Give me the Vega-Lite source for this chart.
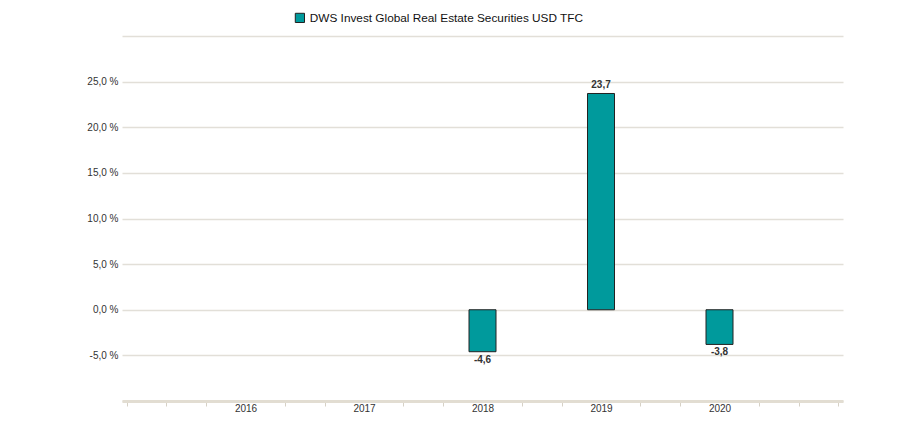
{
  "$schema": "https://vega.github.io/schema/vega-lite/v6.json",
  "autosize": {"type": "none"},
  "width": 721,
  "height": 365,
  "padding": {"left": 122, "top": 36, "right": 55, "bottom": 30},
  "background": "white",
  "data": {
    "values": [
      {"year": 2018, "value": -4.6, "series": "DWS Invest Global Real Estate Securities  USD TFC"},
      {"year": 2019, "value": 23.7, "series": "DWS Invest Global Real Estate Securities  USD TFC"},
      {"year": 2020, "value": -3.8, "series": "DWS Invest Global Real Estate Securities  USD TFC"}
    ]
  },
  "encoding": {
    "x": {
      "field": "year",
      "type": "quantitative",
      "scale": {"domain": [2015, 2021], "nice": false, "zero": false},
      "axis": {
        "title": null,
        "values": [2015, 2015.3333, 2015.6667, 2016, 2016.3333, 2016.6667, 2017, 2017.3333, 2017.6667, 2018, 2018.3333, 2018.6667, 2019, 2019.3333, 2019.6667, 2020, 2020.3333, 2020.6667, 2021],
        "labelExpr": "abs(datum.value - round(datum.value)) < 0.01 && datum.value > 2015.5 && datum.value < 2020.5 ? format(round(datum.value), 'd') : ''",
        "grid": false,
        "domainColor": "#e2ddd2",
        "domainWidth": 3,
        "tickColor": "#d6d1c6",
        "tickSize": 5,
        "tickWidth": 1,
        "tickOpacity": {"condition": {"test": "abs(datum.value - round(datum.value)) < 0.01 && datum.value > 2015.5 && datum.value < 2020.5", "value": 0}, "value": 1},
        "labelFontSize": 10,
        "labelColor": "#333333",
        "labelFont": "Liberation Sans",
        "labelPadding": -3,
        "labelFlush": false,
        "labelOverlap": false
      }
    },
    "y": {
      "field": "value",
      "type": "quantitative",
      "scale": {"domain": [-10, 30], "nice": false, "zero": false},
      "axis": {
        "title": null,
        "values": [-10, -5, 0, 5, 10, 15, 20, 25, 30],
        "labelExpr": "datum.value > -7 && datum.value < 27 ? replace(format(datum.value, '.1f'), '.', ',') + ' %' : ''",
        "grid": true,
        "gridColor": "#e2dfd8",
        "gridWidth": 1.5,
        "domain": false,
        "ticks": false,
        "labelFontSize": 10,
        "labelColor": "#333333",
        "labelFont": "Liberation Sans",
        "labelPadding": 4
      }
    }
  },
  "layer": [
    {
      "mark": {"type": "bar", "size": 27, "stroke": "#222222", "strokeWidth": 1},
      "encoding": {
        "color": {
          "field": "series",
          "type": "nominal",
          "scale": {"range": ["#009a9c"]},
          "legend": {
            "title": null,
            "orient": "none",
            "legendX": 172,
            "legendY": -24,
            "symbolType": "square",
            "symbolSize": 85,
            "symbolStrokeColor": "#222222",
            "symbolStrokeWidth": 1,
            "labelFontSize": 11.8,
            "labelColor": "#111111",
            "labelFont": "Liberation Sans",
            "labelLimit": 400
          }
        }
      }
    },
    {
      "transform": [{"filter": "datum.value >= 0"}],
      "mark": {"type": "text", "baseline": "bottom", "dy": -3, "fontWeight": "bold", "fontSize": 10, "font": "Liberation Sans", "color": "#333333"},
      "encoding": {"text": {"field": "value", "type": "quantitative", "format": ".1f"}}
    },
    {
      "transform": [{"filter": "datum.value < 0"}],
      "mark": {"type": "text", "baseline": "top", "dy": 3, "fontWeight": "bold", "fontSize": 10, "font": "Liberation Sans", "color": "#333333"},
      "encoding": {"text": {"field": "value", "type": "quantitative", "format": ".1f"}}
    }
  ],
  "config": {
    "view": {"stroke": null},
    "locale": {"number": {"decimal": ",", "thousands": ".", "grouping": [3], "currency": ["", " €"], "minus": "-"}}
  }
}
